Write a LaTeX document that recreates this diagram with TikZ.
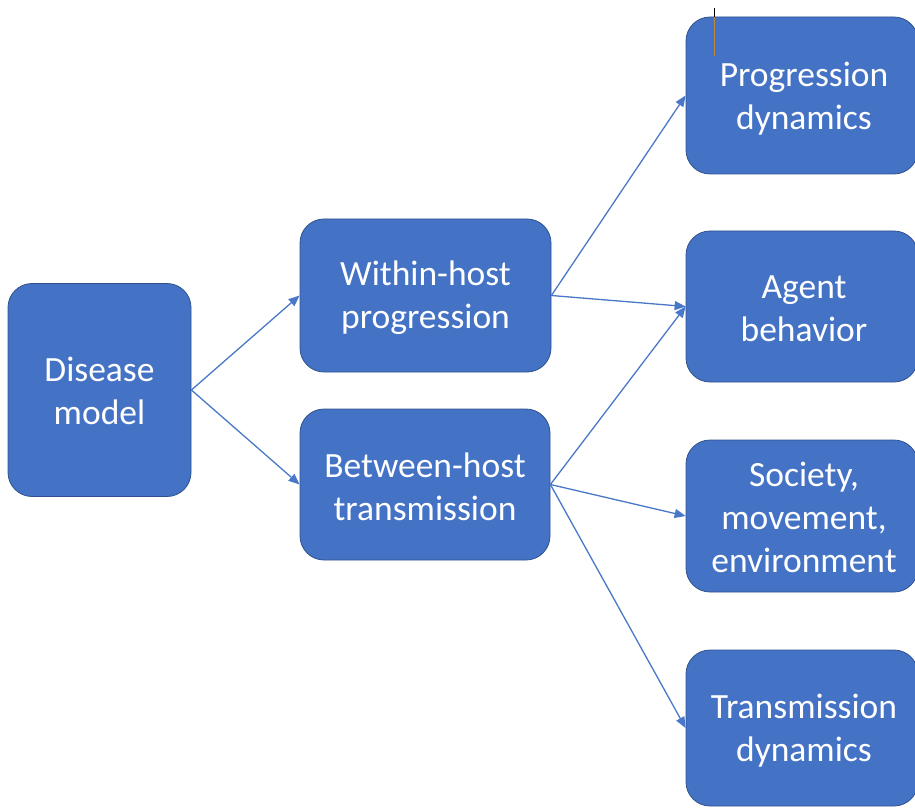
\documentclass[tikz,border=0pt]{standalone}
\usepackage{fontspec}
\setmainfont{Carlito}
\usetikzlibrary{arrows.meta}
\definecolor{boxfill}{HTML}{4472C4}
\definecolor{boxedge}{HTML}{2F528F}
\definecolor{arrowcol}{HTML}{4A78C8}
\definecolor{cursorcol}{HTML}{C0883A}
\tikzset{
  box/.style={draw=boxedge, line width=0.8pt, fill=boxfill, rounded corners=24pt,
    inner sep=0pt},
  boxtext/.style={text=white, align=center, inner sep=0pt,
    font=\fontsize{35.5}{43}\selectfont},
  conn/.style={draw=arrowcol, line width=1.3pt,
    -{Triangle[length=11pt,width=9pt]}}
}
\begin{document}
\begin{tikzpicture}[x=1pt,y=1pt]
\useasboundingbox (0,0) rectangle (915,-810);
\begin{scope}
\clip (0,0) rectangle (915,-810);
\node[box, minimum width=183pt, minimum height=213pt] (dm) at (99.5,-390) {};
\node[box, minimum width=251pt, minimum height=153pt] (wh) at (425.5,-295.5) {};
\node[box, minimum width=250pt, minimum height=151pt] (bh) at (425,-484.5) {};
\node[box, minimum width=232pt, minimum height=157pt] (pd) at (802,-95.5) {};
\node[box, minimum width=232pt, minimum height=151pt] (ab) at (802,-306.5) {};
\node[box, minimum width=232pt, minimum height=152pt] (sm) at (802,-516) {};
\node[box, minimum width=232pt, minimum height=156pt] (td) at (802,-728) {};
\end{scope}
\node[boxtext, yshift=-1pt] (dmt) at (dm.center) {Disease\\model};
\node[boxtext, yshift=-2pt] (wht) at (wh.center) {Within-host\\progression};
\node[boxtext, yshift=-2pt] (bht) at (bh.center) {Between-host\\transmission};
\node[boxtext, xshift=2pt, yshift=-3pt] (pdt) at (pd.center) {Progression\\dynamics};
\node[boxtext, xshift=2pt, yshift=-2pt] (abt) at (ab.center) {Agent\\behavior};
\node[boxtext, xshift=2pt, yshift=-1pt] (smt) at (sm.center) {Society,\\movement,\\environment};
\node[boxtext, xshift=2pt, yshift=-3pt] (tdt) at (td.center) {Transmission\\dynamics};
\draw[conn] (dm.east) -- (wh.west);
\draw[conn] (dm.east) -- (bh.west);
\draw[conn] (wh.east) -- (pd.west);
\draw[conn] (wh.east) -- (ab.west);
\draw[conn] (bh.east) -- (ab.west);
\draw[conn] (bh.east) -- (sm.west);
\draw[conn] (bh.east) -- (td.west);
\draw[black, line width=1pt] (714,-8) -- (714,-17);
\draw[cursorcol, line width=1pt] (714,-17) -- (714,-56);
\end{tikzpicture}
\end{document}
